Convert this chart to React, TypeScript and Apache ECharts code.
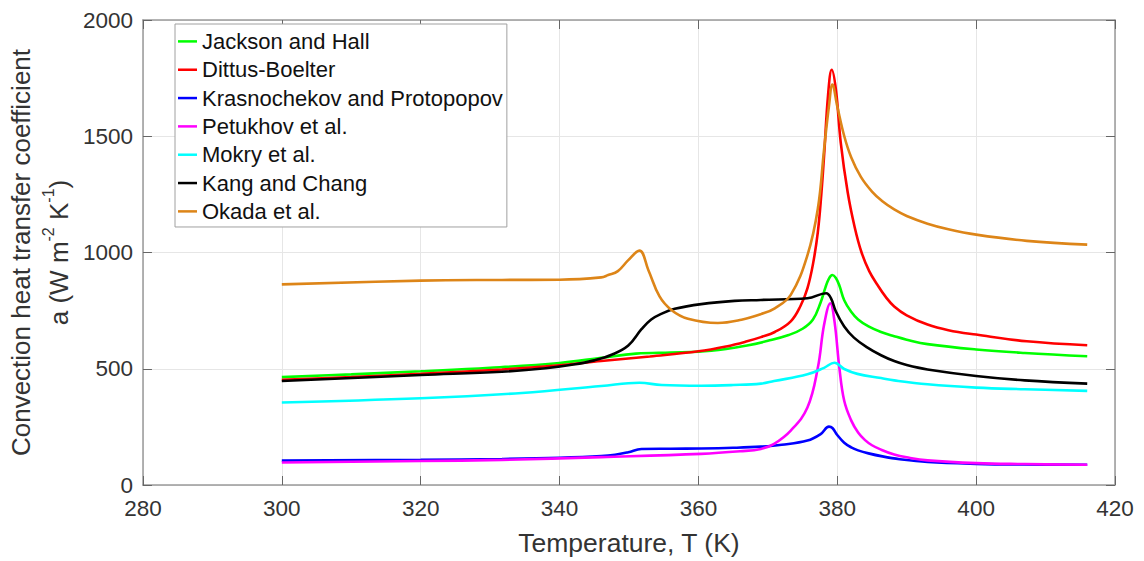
import React, { useEffect, useRef } from "react";
import * as echarts from "echarts";

// Temperature (K) / heat transfer coefficient (W m^-2 K^-1) pairs for each correlation
const jacksonHall: [number, number][] = [
  [300, 464], [310, 476], [320, 489], [330, 504], [340, 525], [346, 547], [351, 565],
  [356, 570], [360, 573], [364, 585], [367, 600], [370, 620], [373, 645], [375, 672],
  [376.5, 712], [377.6, 785], [378.3, 850], [378.8, 888], [379.3, 903], [379.8, 890],
  [380.3, 858], [381, 795], [382, 745], [383, 712], [384.5, 682], [386.3, 658],
  [388.2, 640], [390, 625], [393, 606], [400, 583], [407, 568], [416, 554],
];

const dittusBoelter: [number, number][] = [
  [300, 452], [310, 464], [320, 478], [331.7, 497], [340, 515], [346, 533], [353, 553],
  [360, 575], [364, 596], [367, 618], [369, 636], [371, 658], [373.3, 704], [374.7, 770],
  [375.7, 846], [376.5, 950], [377.2, 1088], [377.7, 1250], [378.1, 1416], [378.7, 1687],
  [379.2, 1786], [379.8, 1701], [380.5, 1473], [381.5, 1259], [382.5, 1110], [383.5, 1000],
  [384.6, 920], [385.8, 860], [387, 808], [388.2, 768], [390, 730], [393, 690], [396, 666],
  [400, 647], [407.3, 618], [416, 601],
];

const krasnochekov: [number, number][] = [
  [300, 105], [320, 108], [331.7, 112], [340, 117], [346, 124], [348, 130], [349.9, 141],
  [351.8, 155], [356, 156], [360.4, 157], [365, 160], [369, 165], [372, 173], [375.7, 191],
  [377.6, 219], [378.8, 251], [379.3, 245], [380, 215], [381, 182], [382, 162], [383, 149],
  [384.5, 136], [386.5, 123], [389, 111], [393, 99], [400, 91], [407, 88], [416, 87],
];

const petukhov: [number, number][] = [
  [300, 97], [320, 103], [331.7, 108], [346, 120], [360.4, 134], [366, 145], [369, 155],
  [370.9, 177], [373.3, 234], [375.7, 333], [377.2, 504], [378.1, 689], [379, 782],
  [379.6, 704], [380.3, 504], [381, 362], [382, 278], [383, 226], [384, 193], [385, 171],
  [386.3, 152], [388.2, 131], [390, 119], [393, 106], [400, 94], [407, 90], [416, 87],
];

const mokry: [number, number][] = [
  [300, 355], [320, 373], [334.6, 396], [346, 426], [351.5, 440], [354.7, 430],
  [360.4, 427], [365, 430], [369, 436], [370.9, 447], [375.7, 476], [378.1, 504],
  [379.6, 526], [381, 499], [382.9, 478], [386.3, 460], [388.2, 450], [393, 433],
  [400, 419], [407, 412], [416, 405],
];

const kangChang: [number, number][] = [
  [300, 447], [320, 473], [331.7, 487], [338, 502], [342, 518], [345, 536], [347.5, 560],
  [349.9, 600], [351.8, 670], [353.2, 712], [354.7, 737], [356.6, 758], [360.4, 778],
  [365.2, 792], [369, 796], [375.7, 803], [378.4, 825], [379.1, 803], [379.8, 746],
  [381, 682], [382.4, 634], [384.3, 592], [386.3, 558], [388.2, 533], [390, 516],
  [393, 497], [400, 469], [407, 450], [416, 436],
];

const okada: [number, number][] = [
  [300, 863], [320, 879], [331.7, 882], [340, 883], [346, 893], [347, 903], [348.4, 920],
  [349.9, 967], [351.5, 1008], [352.8, 924], [354.4, 811], [356.1, 753], [358.5, 715],
  [362.8, 697], [366.2, 711], [369, 735], [371, 760], [373.3, 818], [375.7, 988],
  [377.2, 1188], [378.1, 1444], [378.8, 1629], [379.3, 1722], [380, 1629], [381, 1501],
  [382, 1410], [383.4, 1325], [385, 1262], [386.5, 1220], [388.2, 1185], [390, 1157],
  [393, 1124], [396, 1100], [400, 1077], [407.3, 1050], [416, 1034],
];

const seriesNames = [
  "Jackson and Hall",
  "Dittus-Boelter",
  "Krasnochekov and Protopopov",
  "Petukhov et al.",
  "Mokry et al.",
  "Kang and Chang",
  "Okada et al.",
];
const seriesData = [jacksonHall, dittusBoelter, krasnochekov, petukhov, mokry, kangChang, okada];
const seriesColors = ["#00ff00", "#ff0000", "#0000ff", "#ff00ff", "#00ffff", "#000000", "#dd8518"];

const xMin = 280;
const xMax = 420;
const xStep = 20;
const yMin = 0;
const yMax = 2000;
const yStep = 500;

const FONT = "'Liberation Sans', Arial, Helvetica, sans-serif";
const AXIS_GRAY = "#9a9a9a";
const TEXT_GRAY = "#333333";

export default function App() {
  const ref = useRef<HTMLDivElement>(null);

  useEffect(() => {
    if (!ref.current) return;
    const chart = echarts.init(ref.current, null, { renderer: "svg" });

    const frameAxis = {
      axisLine: { show: true, onZero: false, lineStyle: { color: AXIS_GRAY, width: 1.5 } },
      axisTick: { show: true, inside: true, length: 9, lineStyle: { color: "#666", width: 1 } },
    };

    chart.setOption({
      animation: false,
      backgroundColor: "#ffffff",
      textStyle: { fontFamily: FONT },
      grid: { left: 140, right: 29, top: 20, bottom: 73, containLabel: false },
      legend: {
        data: seriesNames,
        orient: "vertical",
        left: 175,
        top: 24,
        icon: "rect",
        itemWidth: 19,
        itemHeight: 2.5,
        itemGap: 0.33,
        padding: [3.4, 4, 1.6, 3],
        borderColor: "#a0a0a0",
        borderWidth: 1,
        backgroundColor: "#ffffff",
        selectedMode: false,
        textStyle: { fontFamily: FONT, fontSize: 22, lineHeight: 28, color: "#111" },
      },
      xAxis: [
        {
          type: "value",
          min: xMin,
          max: xMax,
          interval: xStep,
          ...frameAxis,
          axisLabel: {
            fontSize: 22.5,
            color: TEXT_GRAY,
            margin: 12,
            fontFamily: FONT,
            formatter: (v: number) => String(v),
          },
          splitLine: { show: true, lineStyle: { color: "#e6e6e6", width: 1 } },
          name: "Temperature, T (K)",
          nameLocation: "middle",
          nameGap: 44,
          nameTextStyle: { fontSize: 26.5, color: TEXT_GRAY, fontFamily: FONT },
        },
        {
          type: "value",
          position: "top",
          min: xMin,
          max: xMax,
          interval: xStep,
          ...frameAxis,
          axisLabel: { show: false },
          splitLine: { show: false },
        },
      ],
      yAxis: [
        {
          type: "value",
          min: yMin,
          max: yMax,
          interval: yStep,
          ...frameAxis,
          axisLabel: {
            fontSize: 22.5,
            color: TEXT_GRAY,
            margin: 10,
            fontFamily: FONT,
            formatter: (v: number) => String(v),
          },
          splitLine: { show: true, lineStyle: { color: "#e6e6e6", width: 1 } },
          name:
            "{t|Convection heat transfer coefficient}\n{t|a (W m}{s|-2}{t| K}{s|-1}{t|)}",
          nameLocation: "middle",
          nameRotate: 90,
          nameGap: 58,
          nameTextStyle: {
            color: TEXT_GRAY,
            fontFamily: FONT,
            rich: {
              t: { fontSize: 26, lineHeight: 38, color: TEXT_GRAY, fontFamily: FONT },
              s: {
                fontSize: 16,
                lineHeight: 14,
                verticalAlign: "top",
                color: TEXT_GRAY,
                fontFamily: FONT,
              },
            },
          },
        },
        {
          type: "value",
          position: "right",
          min: yMin,
          max: yMax,
          interval: yStep,
          ...frameAxis,
          axisLabel: { show: false },
          splitLine: { show: false },
        },
      ],
      series: seriesNames.map((name, i) => ({
        name,
        type: "line",
        xAxisIndex: 0,
        yAxisIndex: 0,
        data: seriesData[i],
        color: seriesColors[i],
        showSymbol: false,
        symbol: "none",
        smooth: 0.4,
        lineStyle: { width: 2.6, color: seriesColors[i] },
        z: 2 + i,
      })),
    });

    return () => chart.dispose();
  }, []);

  return (
    <div
      ref={ref}
      style={{ position: "fixed", left: 0, top: 0, width: 1144, height: 561 }}
    />
  );
}
